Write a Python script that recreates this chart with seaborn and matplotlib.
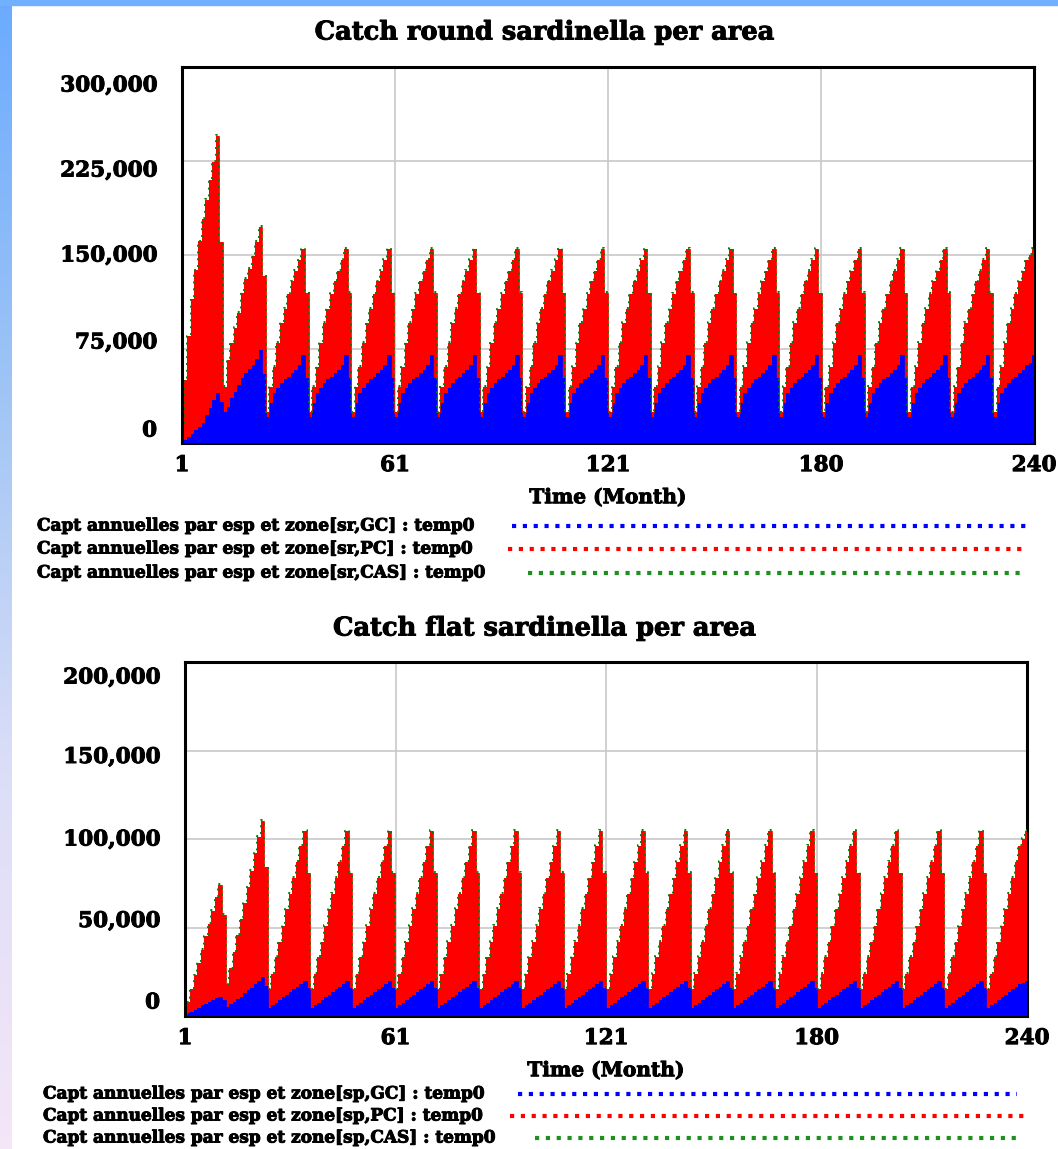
import numpy as np
import pandas as pd
import matplotlib
matplotlib.use("Agg")
import matplotlib.pyplot as plt
import matplotlib.transforms as mtransforms
import matplotlib.patheffects as pe
from matplotlib.lines import Line2D
from matplotlib.patches import Rectangle
import seaborn as sns

# ---------------- data (thousand tonnes, one row per simulated year, 12 months each) -------------
months = list(range(1, 241))

sr_gc_rows = [
    [0.5, 2.5, 5, 7.5, 10, 13, 16, 22, 28, 34, 40, 33],
    [25, 29, 36, 41, 46, 52, 56, 59, 62, 67, 74, 55],
    [21, 32, 40, 44, 48, 51, 53, 55.5, 58, 62, 70, 52],
    [21, 32, 40, 44, 48, 51, 53, 55.5, 58, 62, 70, 52],
    [21, 32, 40, 44, 48, 51, 53, 55.5, 58, 62, 70, 52],
    [21, 32, 40, 44, 48, 51, 53, 55.5, 58, 62, 70, 52],
    [21, 32, 40, 44, 48, 51, 53, 55.5, 58, 62, 70, 52],
    [21, 32, 40, 44, 48, 51, 53, 55.5, 58, 62, 70, 52],
    [21, 32, 40, 44, 48, 51, 53, 55.5, 58, 62, 70, 52],
    [21, 32, 40, 44, 48, 51, 53, 55.5, 58, 62, 70, 52],
    [21, 32, 40, 44, 48, 51, 53, 55.5, 58, 62, 70, 52],
    [21, 32, 40, 44, 48, 51, 53, 55.5, 58, 62, 70, 52],
    [21, 32, 40, 44, 48, 51, 53, 55.5, 58, 62, 70, 52],
    [21, 32, 40, 44, 48, 51, 53, 55.5, 58, 62, 70, 52],
    [21, 32, 40, 44, 48, 51, 53, 55.5, 58, 62, 70, 52],
    [21, 32, 40, 44, 48, 51, 53, 55.5, 58, 62, 70, 52],
    [21, 32, 40, 44, 48, 51, 53, 55.5, 58, 62, 70, 52],
    [21, 32, 40, 44, 48, 51, 53, 55.5, 58, 62, 70, 52],
    [21, 32, 40, 44, 48, 51, 53, 55.5, 58, 62, 70, 52],
    [21, 32, 40, 44, 48, 51, 53, 55.5, 58, 62, 64, 70],
]
sr_pc_rows = [
    [11.5, 47.5, 80, 107.5, 128, 148, 163, 172, 182, 190, 205, 127],
    [20, 37, 44, 51, 58, 68, 75, 80, 87, 93, 98, 78],
    [4, 13, 21, 36, 48, 56, 66, 73.5, 79, 84, 85, 68],
    [4, 13, 21, 36, 48, 56, 66, 73.5, 79, 84, 85, 68],
    [4, 13, 21, 36, 48, 56, 66, 73.5, 79, 84, 85, 68],
    [4, 13, 21, 36, 48, 56, 66, 73.5, 79, 84, 85, 68],
    [4, 13, 21, 36, 48, 56, 66, 73.5, 79, 84, 85, 68],
    [4, 13, 21, 36, 48, 56, 66, 73.5, 79, 84, 85, 68],
    [4, 13, 21, 36, 48, 56, 66, 73.5, 79, 84, 85, 68],
    [4, 13, 21, 36, 48, 56, 66, 73.5, 79, 84, 85, 68],
    [4, 13, 21, 36, 48, 56, 66, 73.5, 79, 84, 85, 68],
    [4, 13, 21, 36, 48, 56, 66, 73.5, 79, 84, 85, 68],
    [4, 13, 21, 36, 48, 56, 66, 73.5, 79, 84, 85, 68],
    [4, 13, 21, 36, 48, 56, 66, 73.5, 79, 84, 85, 68],
    [4, 13, 21, 36, 48, 56, 66, 73.5, 79, 84, 85, 68],
    [4, 13, 21, 36, 48, 56, 66, 73.5, 79, 84, 85, 68],
    [4, 13, 21, 36, 48, 56, 66, 73.5, 79, 84, 85, 68],
    [4, 13, 21, 36, 48, 56, 66, 73.5, 79, 84, 85, 68],
    [4, 13, 21, 36, 48, 56, 66, 73.5, 79, 84, 85, 68],
    [4, 13, 21, 36, 48, 56, 66, 73.5, 79, 84, 86, 85],
]
sr_cas_rows = [[0.1, 0.2, 0.3, 0.3, 0.4, 0.5, 0.6, 0.6, 0.7, 0.8, 0.9, 0.7]] * 19 + \
              [[0.1, 0.2, 0.3, 0.3, 0.4, 0.5, 0.6, 0.6, 0.7, 0.8, 0.8, 0.9]]

sp_gc_rows = [
    [0.3, 1.5, 2.5, 3.5, 4.8, 6, 7, 8, 9, 10, 11, 9],
    [5, 6.5, 8, 9.5, 11, 13, 14.5, 16, 18, 20, 22, 17],
    [4.5, 6, 7.5, 9, 10.5, 12, 13.5, 15, 16.5, 18, 19.5, 16],
    [4.5, 6, 7.5, 9, 10.5, 12, 13.5, 15, 16.5, 18, 19.5, 16],
    [4.5, 6, 7.5, 9, 10.5, 12, 13.5, 15, 16.5, 18, 19.5, 16],
    [4.5, 6, 7.5, 9, 10.5, 12, 13.5, 15, 16.5, 18, 19.5, 16],
    [4.5, 6, 7.5, 9, 10.5, 12, 13.5, 15, 16.5, 18, 19.5, 16],
    [4.5, 6, 7.5, 9, 10.5, 12, 13.5, 15, 16.5, 18, 19.5, 16],
    [4.5, 6, 7.5, 9, 10.5, 12, 13.5, 15, 16.5, 18, 19.5, 16],
    [4.5, 6, 7.5, 9, 10.5, 12, 13.5, 15, 16.5, 18, 19.5, 16],
    [4.5, 6, 7.5, 9, 10.5, 12, 13.5, 15, 16.5, 18, 19.5, 16],
    [4.5, 6, 7.5, 9, 10.5, 12, 13.5, 15, 16.5, 18, 19.5, 16],
    [4.5, 6, 7.5, 9, 10.5, 12, 13.5, 15, 16.5, 18, 19.5, 16],
    [4.5, 6, 7.5, 9, 10.5, 12, 13.5, 15, 16.5, 18, 19.5, 16],
    [4.5, 6, 7.5, 9, 10.5, 12, 13.5, 15, 16.5, 18, 19.5, 16],
    [4.5, 6, 7.5, 9, 10.5, 12, 13.5, 15, 16.5, 18, 19.5, 16],
    [4.5, 6, 7.5, 9, 10.5, 12, 13.5, 15, 16.5, 18, 19.5, 16],
    [4.5, 6, 7.5, 9, 10.5, 12, 13.5, 15, 16.5, 18, 19.5, 16],
    [4.5, 6, 7.5, 9, 10.5, 12, 13.5, 15, 16.5, 18, 19.5, 16],
    [4.5, 6, 7.5, 9, 10.5, 12, 13.5, 15, 16.5, 18, 18.8, 19.5],
]
sp_pc_rows = [
    [0.7, 6.5, 13, 19.5, 25.2, 31.5, 38, 44, 50.5, 57, 63, 48],
    [13, 20.5, 28, 36.5, 44, 51, 58.5, 66, 74, 81, 88, 67],
    [10.5, 18, 26, 33, 40.5, 48.5, 55.5, 63, 70.5, 78, 85, 65],
    [10.5, 18, 26, 33, 40.5, 48.5, 55.5, 63, 70.5, 78, 85, 65],
    [10.5, 18, 26, 33, 40.5, 48.5, 55.5, 63, 70.5, 78, 85, 65],
    [10.5, 18, 26, 33, 40.5, 48.5, 55.5, 63, 70.5, 78, 85, 65],
    [10.5, 18, 26, 33, 40.5, 48.5, 55.5, 63, 70.5, 78, 85, 65],
    [10.5, 18, 26, 33, 40.5, 48.5, 55.5, 63, 70.5, 78, 85, 65],
    [10.5, 18, 26, 33, 40.5, 48.5, 55.5, 63, 70.5, 78, 85, 65],
    [10.5, 18, 26, 33, 40.5, 48.5, 55.5, 63, 70.5, 78, 85, 65],
    [10.5, 18, 26, 33, 40.5, 48.5, 55.5, 63, 70.5, 78, 85, 65],
    [10.5, 18, 26, 33, 40.5, 48.5, 55.5, 63, 70.5, 78, 85, 65],
    [10.5, 18, 26, 33, 40.5, 48.5, 55.5, 63, 70.5, 78, 85, 65],
    [10.5, 18, 26, 33, 40.5, 48.5, 55.5, 63, 70.5, 78, 85, 65],
    [10.5, 18, 26, 33, 40.5, 48.5, 55.5, 63, 70.5, 78, 85, 65],
    [10.5, 18, 26, 33, 40.5, 48.5, 55.5, 63, 70.5, 78, 85, 65],
    [10.5, 18, 26, 33, 40.5, 48.5, 55.5, 63, 70.5, 78, 85, 65],
    [10.5, 18, 26, 33, 40.5, 48.5, 55.5, 63, 70.5, 78, 85, 65],
    [10.5, 18, 26, 33, 40.5, 48.5, 55.5, 63, 70.5, 78, 85, 65],
    [10.5, 18, 26, 33, 40.5, 48.5, 55.5, 63, 70.5, 78, 81.2, 85],
]
sp_cas_rows = [[0.1, 0.1, 0.2, 0.2, 0.3, 0.3, 0.4, 0.4, 0.5, 0.5, 0.6, 0.5]] * 19 + \
              [[0.1, 0.1, 0.2, 0.2, 0.3, 0.3, 0.4, 0.4, 0.5, 0.5, 0.5, 0.6]]

x_tick_pos = [1, 60.75, 120.5, 180.25, 240]
x_tick_labels = ["1", "61", "121", "180", "240"]
sr_yticks = [0, 75000, 150000, 225000, 300000]
sp_yticks = [0, 50000, 100000, 150000, 200000]

titles = ["Catch round sardinella per area", "Catch flat sardinella per area"]
sr_legend = ["Capt annuelles par esp et zone[sr,GC] : temp0",
             "Capt annuelles par esp et zone[sr,PC] : temp0",
             "Capt annuelles par esp et zone[sr,CAS] : temp0"]
sp_legend = ["Capt annuelles par esp et zone[sp,GC] : temp0",
             "Capt annuelles par esp et zone[sp,PC] : temp0",
             "Capt annuelles par esp et zone[sp,CAS] : temp0"]


def to_frame(gc_rows, pc_rows, cas_rows):
    gc = np.array(gc_rows, dtype=float).ravel() * 1000
    pc = np.array(pc_rows, dtype=float).ravel() * 1000
    cas = np.array(cas_rows, dtype=float).ravel() * 1000
    df = pd.DataFrame({"month": months, "gc": gc, "pc": pc, "cas": cas})
    df["gc_top"] = df.gc
    df["pc_top"] = df.gc + df.pc
    df["cas_top"] = df.gc + df.pc + df.cas
    return df


sr = to_frame(sr_gc_rows, sr_pc_rows, sr_cas_rows)
sp = to_frame(sp_gc_rows, sp_pc_rows, sp_cas_rows)

# ---------------- styling ----------------
sns.set_theme(style="white")
plt.rcParams["font.family"] = ["DejaVu Serif"]
plt.rcParams["font.weight"] = "bold"
plt.rcParams["text.color"] = "black"
plt.rcParams["axes.labelcolor"] = "black"

HEAVY = [pe.withStroke(linewidth=0.7, foreground="black")]

W, H = 1058, 1149
fig = plt.figure(figsize=(W / 100, H / 100), dpi=100)
fig.patch.set_facecolor("white")


def rect(l, t, r, b):
    return [l / W, 1 - b / H, (r - l) / W, (b - t) / H]


# left gradient strip and top band
bg = fig.add_axes([0, 0, 12 / W, 1], zorder=-10)
cols = np.array([[0.42, 0.67, 1.00], [0.62, 0.77, 0.96], [0.86, 0.87, 0.97], [0.96, 0.90, 0.97]])
pos = np.linspace(0, 1, len(cols))
yy = np.linspace(0, 1, 256)
grad = np.stack([np.interp(yy, pos, cols[:, k]) for k in range(3)], axis=1)[:, None, :]
bg.imshow(grad, aspect="auto", extent=[0, 1, 1, 0])
bg.axis("off")
fig.patches.append(Rectangle((0, 1 - 5 / H), 1, 5 / H, transform=fig.transFigure,
                             color="#70b0ff", zorder=-5))

BLUE, RED, GREEN = "#0000ff", "#ff0000", "#008000"


def draw_panel(ax, df, ymax, yticks, label_dy):
    ax.fill_between(df.month, 0, df.gc_top, step="mid", color=BLUE, lw=0, zorder=3)
    ax.fill_between(df.month, df.gc_top, df.pc_top, step="mid", color=RED, lw=0, zorder=3)
    sns.lineplot(data=df, x="month", y="gc_top", ax=ax, color=BLUE, lw=0.6,
                 drawstyle="steps-mid", zorder=3.5)
    sns.lineplot(data=df, x="month", y="pc_top", ax=ax, color=RED, lw=0.6,
                 drawstyle="steps-mid", zorder=3.5)
    sns.lineplot(data=df, x="month", y="cas_top", ax=ax, color=GREEN, lw=1.4,
                 linestyle=(0, (1, 2.5)), drawstyle="steps-mid", zorder=4)
    ax.set_xlim(1, 240)
    ax.set_ylim(0, ymax)
    ax.set_xticks(x_tick_pos)
    ax.set_xticklabels(x_tick_labels)
    ax.set_yticks(yticks)
    ax.set_yticklabels(["0" if v == 0 else f"{v:,}" for v in yticks])
    ax.set_axisbelow(True)
    ax.grid(True, color="#c8c8c8", lw=1.2)
    ax.set_ylabel("")
    ax.set_xlabel("Time (Month)", fontsize=14.5, fontweight="bold", labelpad=8,
                  color="black", path_effects=HEAVY)
    ax.tick_params(axis="both", length=0, labelsize=15.5, colors="black")
    ax.tick_params(axis="y", pad=18)
    ax.tick_params(axis="x", pad=8)
    for s in ax.spines.values():
        s.set_color("black")
        s.set_linewidth(2.2)
        s.set_visible(True)
    ax.spines["left"].set_zorder(5)
    ax.spines["top"].set_zorder(5)
    for lab in ax.get_xticklabels() + ax.get_yticklabels():
        lab.set_fontweight("bold")
        lab.set_path_effects(HEAVY)
    for lab, dy in zip(ax.get_yticklabels(), label_dy):
        lab.set_transform(lab.get_transform() +
                          mtransforms.ScaledTranslation(0, -dy / 100, fig.dpi_scale_trans))


ax1 = fig.add_axes(rect(182, 67, 1034, 443))
draw_panel(ax1, sr, 300000, sr_yticks, [-15, -9, -2, 7, 16])
ax2 = fig.add_axes(rect(185, 662, 1027, 1016))
draw_panel(ax2, sp, 200000, sp_yticks, [-16, -9, -2, 4, 13])

fig.text(545 / W, 1 - 32 / H, titles[0], ha="center", va="center", fontsize=18.5,
         fontweight="bold", color="black", path_effects=HEAVY)
fig.text(545 / W, 1 - 628 / H, titles[1], ha="center", va="center", fontsize=18.5,
         fontweight="bold", color="black", path_effects=HEAVY)


def legend_block(labels, x_text, ys, starts, ends):
    for lab, y, x0, x1, c in zip(labels, ys, starts, ends, [BLUE, RED, "#1f8f1f"]):
        fig.text(x_text / W, 1 - y / H, lab, ha="left", va="center", fontsize=12.2,
                 fontweight="bold", color="black", path_effects=HEAVY)
        fig.add_artist(Line2D([x0 / W, x1 / W], [1 - y / H, 1 - y / H], transform=fig.transFigure,
                              color=c, lw=3, linestyle=(0, (1, 1.6))))


legend_block(sr_legend, 37, [526, 549, 573], [512, 508, 528], [1028, 1028, 1022])
legend_block(sp_legend, 43, [1094, 1116, 1138], [518, 510, 535], [1017, 1025, 1022])

fig.savefig("out.png", dpi=100, facecolor="white")
